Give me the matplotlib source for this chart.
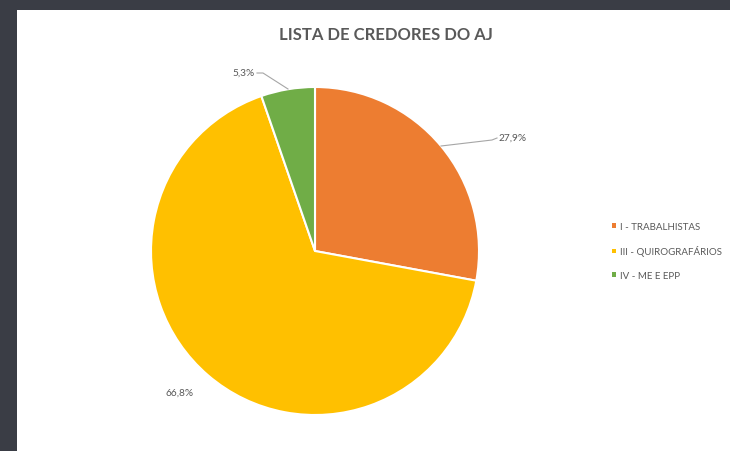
import matplotlib.pyplot as plt
from matplotlib.patches import Rectangle, Patch

plt.rcParams['font.family'] = ['Lato', 'DejaVu Sans']

labels = ['I - TRABALHISTAS', 'III - QUIROGRAFÁRIOS', 'IV - ME E EPP']
values = [27.9, 66.8, 5.3]
pct_text = ['27,9%', '66,8%', '5,3%']
colors = ['#ED7D31', '#FFC000', '#70AD47']
gray = '#595959'

fig = plt.figure(figsize=(7.30, 4.52), dpi=100, facecolor='#3a3d45')
ax = fig.add_axes([0, 0, 1, 1])

# white chart panel over the dark slide background
ax.add_patch(Rectangle((17, 0), 713, 441, facecolor='white', edgecolor='none', zorder=0))

wedges, _ = ax.pie(values, colors=colors, startangle=90, counterclock=False,
                   center=(315, 200), radius=164, frame=True,
                   wedgeprops=dict(edgecolor='white', linewidth=1.5))
ax.set_xlim(0, 730)
ax.set_ylim(0, 452)
ax.set_aspect('equal')
ax.axis('off')

# data labels with leader lines
ax.plot([441, 492, 497], [305, 311, 313], color='#a6a6a6', lw=0.8)
ax.text(499, 314, pct_text[0], fontsize=7.3, color=gray, va='center', ha='left')

ax.text(180, 59, pct_text[1], fontsize=7.3, color=gray, va='center', ha='center')

ax.plot([288, 263, 257], [362, 378, 378], color='#a6a6a6', lw=0.8)
ax.text(255, 379, pct_text[2], fontsize=7.3, color=gray, va='center', ha='right')

ax.text(386, 417, 'LISTA DE CREDORES DO AJ', fontsize=12, fontweight='bold',
        color=gray, ha='center', va='center')

handles = [Patch(facecolor=c, edgecolor='none') for c in colors]
ax.legend(handles, labels, loc='center left', bbox_to_anchor=(603 / 730, 200 / 452),
          frameon=False, fontsize=7.0, labelcolor=gray, handlelength=0.4,
          handleheight=0.4, handletextpad=0.5, labelspacing=1.5)

fig.savefig('out.png', dpi=100, facecolor=fig.get_facecolor())
